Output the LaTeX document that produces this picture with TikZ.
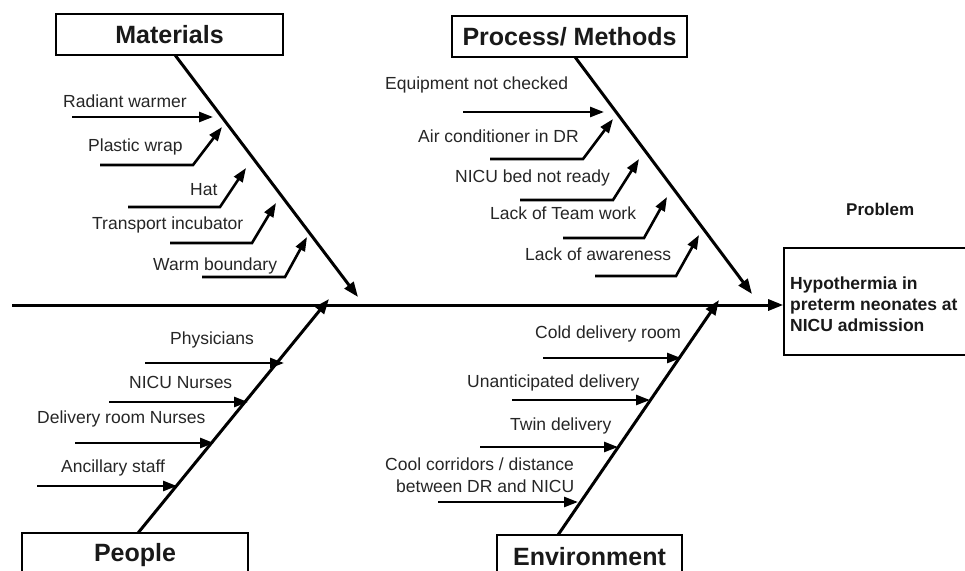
\documentclass[tikz,border=0pt]{standalone}
\usepackage{fontspec}
\setmainfont{Liberation Sans}
\usetikzlibrary{arrows.meta}
\begin{document}
\begin{tikzpicture}[x=1pt,y=-1pt,
 bone/.style={line width=3pt, -{Triangle[length=15pt,width=11pt]}},
 twig/.style={line width=2.6pt, -{Triangle[length=14pt,width=10pt]}},
 lbl/.style={anchor=base west, inner sep=0pt, font=\fontsize{17.5}{20}\selectfont, text=black!85},
 hdr/.style={draw, line width=1.6pt, inner sep=0pt, font=\fontsize{25}{30}\selectfont\bfseries, text=black!90},
 plbl/.style={anchor=base west, inner sep=0pt, font=\fontsize{17.5}{21}\selectfont\bfseries, align=left, text=black!90},
]
\useasboundingbox (0,0) rectangle (965,570);
\clip (0,0) rectangle (965,570);
\fill[white] (0,0) rectangle (965,570);

% headers
\node[hdr, minimum width=227pt, minimum height=41pt] (mat) at (169.5,34.5) {Materials};
\node[hdr, minimum width=235pt, minimum height=41pt] (proc) at (569.5,36.5) {Process/ Methods};
\node[hdr, minimum width=226pt, minimum height=44pt] (peo) at (135,555) {People};
\node[hdr, minimum width=185pt, minimum height=44pt] (env) at (589.5,557) {Environment};

% problem
\node[draw, line width=1.6pt, minimum width=192pt, minimum height=107pt, inner sep=0pt] (prob) at (880,301.5) {};
\node[plbl] (probt) at (846,215) {\fontsize{17}{20}\selectfont Problem};
\node[plbl] (probtx) at (790,331) {Hypothermia in\\preterm neonates at\\NICU admission};

% main spine
\coordinate (spS) at (12,305);
\draw[bone] (spS) -- (prob.west |- spS);

% bones
\coordinate (matS) at (175,55);   \coordinate (matE) at (358,297);
\coordinate (procS) at (575,57);  \coordinate (procE) at (752,294);
\coordinate (peoS) at (138,533);  \coordinate (peoE) at (329,299);
\coordinate (envS) at (558,535);  \coordinate (envE) at (719,300);
\draw[bone] (matS) -- (matE);
\draw[bone] (procS) -- (procE);
\draw[bone] (peoS) -- (peoE);
\draw[bone] (envS) -- (envE);

% Materials causes
\node[lbl] (m1) at (63,107) {Radiant warmer};
\node[lbl] (m2) at (88,151) {Plastic wrap};
\node[lbl] (m3) at (190,195) {Hat};
\node[lbl] (m4) at (92,229) {Transport incubator};
\node[lbl] (m5) at (153,270) {Warm boundary};
\coordinate (m1a) at (72,117);  \coordinate (m1b) at (213,117);
\draw[twig] (m1a) -- (m1b);
\coordinate (m2a) at (100,165); \coordinate (m2b) at (193,165); \coordinate (m2c) at (222,127);
\draw[twig] (m2a) -- (m2b) -- (m2c);
\coordinate (m3a) at (128,207); \coordinate (m3b) at (220,207); \coordinate (m3c) at (246,168);
\draw[twig] (m3a) -- (m3b) -- (m3c);
\coordinate (m4a) at (170,243); \coordinate (m4b) at (252,243); \coordinate (m4c) at (276,203);
\draw[twig] (m4a) -- (m4b) -- (m4c);
\coordinate (m5a) at (202,277); \coordinate (m5b) at (285,277); \coordinate (m5c) at (307,237);
\draw[twig] (m5a) -- (m5b) -- (m5c);

% Process causes
\node[lbl] (p1) at (385,89) {Equipment not checked};
\node[lbl] (p2) at (418,142) {Air conditioner in DR};
\node[lbl] (p3) at (455,182) {NICU bed not ready};
\node[lbl] (p4) at (490,219) {Lack of Team work};
\node[lbl] (p5) at (525,260) {Lack of awareness};
\coordinate (p1a) at (463,112); \coordinate (p1b) at (604,112);
\draw[twig] (p1a) -- (p1b);
\coordinate (p2a) at (490,159); \coordinate (p2b) at (583,159); \coordinate (p2c) at (613,119);
\draw[twig] (p2a) -- (p2b) -- (p2c);
\coordinate (p3a) at (520,200); \coordinate (p3b) at (613,200); \coordinate (p3c) at (639,159);
\draw[twig] (p3a) -- (p3b) -- (p3c);
\coordinate (p4a) at (563,238); \coordinate (p4b) at (644,238); \coordinate (p4c) at (667,197);
\draw[twig] (p4a) -- (p4b) -- (p4c);
\coordinate (p5a) at (595,276); \coordinate (p5b) at (676,276); \coordinate (p5c) at (699,235);
\draw[twig] (p5a) -- (p5b) -- (p5c);

% People causes
\node[lbl] (h1) at (170,344) {Physicians};
\node[lbl] (h2) at (129,388) {NICU Nurses};
\node[lbl] (h3) at (37,423) {Delivery room Nurses};
\node[lbl] (h4) at (61,472) {Ancillary staff};
\coordinate (h1a) at (145,363); \coordinate (h1b) at (284,363);
\draw[twig] (h1a) -- (h1b);
\coordinate (h2a) at (109,402); \coordinate (h2b) at (248,402);
\draw[twig] (h2a) -- (h2b);
\coordinate (h3a) at (75,443); \coordinate (h3b) at (214,443);
\draw[twig] (h3a) -- (h3b);
\coordinate (h4a) at (37,486); \coordinate (h4b) at (177,486);
\draw[twig] (h4a) -- (h4b);

% Environment causes
\node[lbl] (e1) at (535,338) {Cold delivery room};
\node[lbl] (e2) at (467,387) {Unanticipated delivery};
\node[lbl] (e3) at (510,430) {Twin delivery};
\node[lbl] (e4) at (385,470) {Cool corridors / distance};
\node[lbl] (e4b) at (396,492) {between DR and NICU};
\coordinate (e1a) at (543,358); \coordinate (e1b) at (681,358);
\draw[twig] (e1a) -- (e1b);
\coordinate (e2a) at (512,400); \coordinate (e2b) at (650,400);
\draw[twig] (e2a) -- (e2b);
\coordinate (e3a) at (480,447); \coordinate (e3b) at (618,447);
\draw[twig] (e3a) -- (e3b);
\coordinate (e4a) at (438,502); \coordinate (e4b) at (578,502);
\draw[twig] (e4a) -- (e4b);
\end{tikzpicture}
\end{document}
